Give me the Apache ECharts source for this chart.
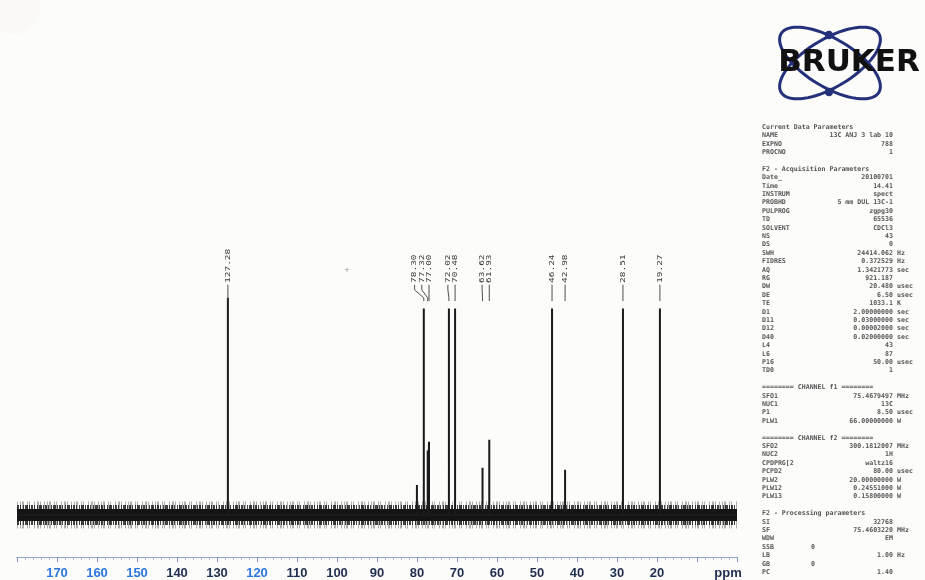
<!DOCTYPE html>
<html>
<head>
<meta charset="utf-8">
<script src="https://cdn.jsdelivr.net/npm/echarts@6/dist/echarts.min.js"></script>
<style>
  html, body { margin: 0; padding: 0; background: #fcfcfb; }
  #c { width: 925px; height: 580px; }
</style>
</head>
<body>
<div id="c"></div>
<script>
// 13C spectrum: peak positions (ppm) and relative intensities
const peakShifts  = [127.28, 80.02, 78.30, 77.32, 77.00, 72.02, 70.48, 63.62, 61.93, 46.24, 42.98, 28.51, 19.27];
const peakHeights = [101,    14,    96,    30,    34,    96,    96,    22,    35,    96,    21,    96,    96];
// peaks that carry a printed shift label
const labelledShifts = [127.28, 78.30, 77.32, 77.00, 72.02, 70.48, 63.62, 61.93, 46.24, 42.98, 28.51, 19.27];
// x-axis tick labels
const tickLabels = [170, 160, 150, 140, 130, 120, 110, 100, 90, 80, 70, 60, 50, 40, 30, 20];
const highlightedTicks = [170, 160, 150, 120];

// acquisition / processing parameter listing
const parameterRows = [
  'Current Data Parameters',
  ['NAME', '13C ANJ 3 lab 10', ''],
  ['EXPNO', '788', ''],
  ['PROCNO', '1', ''],
  null,
  'F2 - Acquisition Parameters',
  ['Date_', '20100701', ''],
  ['Time', '14.41', ''],
  ['INSTRUM', 'spect', ''],
  ['PROBHD', '5 mm DUL 13C-1', ''],
  ['PULPROG', 'zgpg30', ''],
  ['TD', '65536', ''],
  ['SOLVENT', 'CDCl3', ''],
  ['NS', '43', ''],
  ['DS', '0', ''],
  ['SWH', '24414.062', 'Hz'],
  ['FIDRES', '0.372529', 'Hz'],
  ['AQ', '1.3421773', 'sec'],
  ['RG', '921.187', ''],
  ['DW', '20.480', 'usec'],
  ['DE', '6.50', 'usec'],
  ['TE', '1033.1', 'K'],
  ['D1', '2.00000000', 'sec'],
  ['D11', '0.03000000', 'sec'],
  ['D12', '0.00002000', 'sec'],
  ['D40', '0.02000000', 'sec'],
  ['L4', '43', ''],
  ['L6', '87', ''],
  ['P16', '50.00', 'usec'],
  ['TD0', '1', ''],
  null,
  '======== CHANNEL f1 ========',
  ['SFO1', '75.4679497', 'MHz'],
  ['NUC1', '13C', ''],
  ['P1', '8.50', 'usec'],
  ['PLW1', '66.00000000', 'W'],
  null,
  '======== CHANNEL f2 ========',
  ['SFO2', '300.1812007', 'MHz'],
  ['NUC2', '1H', ''],
  ['CPDPRG[2', 'waltz16', ''],
  ['PCPD2', '80.00', 'usec'],
  ['PLW2', '20.00000000', 'W'],
  ['PLW12', '0.24551000', 'W'],
  ['PLW13', '0.15800000', 'W'],
  null,
  'F2 - Processing parameters',
  ['SI', '32768', ''],
  ['SF', '75.4603220', 'MHz'],
  ['WDW', 'EM', ''],
  ['SSB', '0', '', 'mid'],
  ['LB', '1.00', 'Hz'],
  ['GB', '0', '', 'mid'],
  ['PC', '1.40', '']
];

// ---- axis extent and drawing constants ----
const PPM_MIN = 0, PPM_MAX = 180;
const LABEL_GAP_PPM = 1.8;                 // minimum label separation
const LEVEL = { text: 107.8, lead: 107.0, bendTop: 104.6, bendBottom: 100.9, end: 99.4 };

// stick trace: baseline with each resonance drawn as a vertical line
const order = peakShifts.map((s, i) => i).sort((a, b) => peakShifts[b] - peakShifts[a]);
const trace = [[PPM_MAX, 0]];
order.forEach(i => {
  trace.push([peakShifts[i], 0], [peakShifts[i], peakHeights[i]], [peakShifts[i], 0]);
});
trace.push([PPM_MIN, 0]);

// label placement: labels keep their peak position unless a neighbour
// on the right forces them further left
const labelData = [];
{
  const asc = labelledShifts.slice().sort((a, b) => a - b);
  let prev = -Infinity;
  asc.forEach(s => {
    const pos = Math.max(s, prev + LABEL_GAP_PPM);
    const h = peakHeights[peakShifts.indexOf(s)];
    labelData.push([s, h, pos]);
    prev = pos;
  });
}

const baselineBand = [[PPM_MAX, 0], [PPM_MIN, 0]];

// ---- right-hand panel: logo and parameter text ----
function ellipsePoints(cx, cy, a, b, rotDeg) {
  const r = rotDeg * Math.PI / 180, pts = [];
  for (let k = 0; k < 72; k++) {
    const t = k / 72 * Math.PI * 2;
    const x = a * Math.cos(t), y = b * Math.sin(t);
    pts.push([cx + x * Math.cos(r) - y * Math.sin(r), cy + x * Math.sin(r) + y * Math.cos(r)]);
  }
  return pts;
}

const NAVY = '#24307a';
const graphics = [
  { type: 'circle', shape: { cx: 14, cy: 8, r: 26 }, style: { fill: 'rgba(235,195,210,0.07)' }, silent: true },
  { type: 'polygon', shape: { points: ellipsePoints(830, 63, 57, 24, 31) }, style: { fill: null, stroke: NAVY, lineWidth: 3 } },
  { type: 'polygon', shape: { points: ellipsePoints(830, 63, 57, 24, -31) }, style: { fill: null, stroke: NAVY, lineWidth: 3 } },
  { type: 'circle', shape: { cx: 829, cy: 35, r: 4.2 }, style: { fill: NAVY } },
  { type: 'circle', shape: { cx: 829, cy: 92, r: 4.2 }, style: { fill: NAVY } },
  { type: 'text', x: 849, y: 63, style: { text: 'BRUKER', fontFamily: 'DejaVu Sans', fontWeight: 'bold', fontSize: 31, fill: '#111', align: 'center', verticalAlign: 'middle' } },
  { type: 'text', x: 347, y: 270, style: { text: '+', fontFamily: 'DejaVu Sans', fontSize: 7, fill: '#999', align: 'center', verticalAlign: 'middle' } }
];

const PX = 762, PV = 893, PU = 897, PMID = 815, PTOP = 127, PSTEP = 8.4;
const pStyle = { fontFamily: 'DejaVu Sans Mono', fontWeight: 'bold', fontSize: 6.6, fill: '#555', verticalAlign: 'middle' };
function pText(x, y, text, align) {
  return { type: 'text', x, y, style: Object.assign({ text, align }, pStyle) };
}
parameterRows.forEach((row, i) => {
  const y = PTOP + i * PSTEP;
  if (!row) return;
  if (typeof row === 'string') { graphics.push(pText(PX, y, row, 'left')); return; }
  graphics.push(pText(PX, y, row[0], 'left'));
  graphics.push(pText(row[3] === 'mid' ? PMID : PV, y, row[1], 'right'));
  if (row[2]) graphics.push(pText(PU, y, row[2], 'left'));
});

const tickFont = { fontFamily: 'Liberation Sans', fontWeight: 'bold', fontSize: 13 };

const chart = echarts.init(document.getElementById('c'));
chart.setOption({
  animation: false,
  backgroundColor: '#fcfcfb',
  grid: { left: 17, right: 188, top: 20, bottom: 23 },
  xAxis: {
    type: 'value', min: PPM_MIN, max: PPM_MAX, interval: 10, inverse: true,
    splitLine: { show: false },
    axisLine: { onZero: false, lineStyle: { color: '#8ea3cc', width: 1.2 } },
    axisTick: { length: 5, lineStyle: { color: '#7a90bd' } },
    minorTick: { show: true, splitNumber: 5, length: 3, lineStyle: { color: '#a3b4d6' } },
    axisLabel: {
      interval: 0, margin: 10, showMinLabel: true, showMaxLabel: true,
      formatter: v => {
        if (v === 0) return '{p|ppm}';
        if (tickLabels.indexOf(v) < 0) return '';
        return (highlightedTicks.indexOf(v) >= 0 ? '{b|' : '{n|') + v + '}';
      },
      rich: {
        n: Object.assign({ color: '#1f2d4e' }, tickFont),
        b: Object.assign({ color: '#2d77de' }, tickFont),
        p: Object.assign({ color: '#1f2d4e', padding: [0, 18, 0, 0] }, tickFont)
      }
    }
  },
  yAxis: { type: 'value', min: -19.5, max: 230, show: false },
  graphic: graphics,
  series: [
    // baseline noise band, built from layered dashed strokes
    { type: 'line', data: baselineBand, symbol: 'none', silent: true, z: 1,
      lineStyle: { width: 27, color: 'rgba(30,30,30,0.35)', type: [1, 2, 1, 1, 2, 3, 1, 1, 1, 4, 1, 2, 2, 1, 1, 3], cap: 'butt' } },
    { type: 'line', data: baselineBand, symbol: 'none', silent: true, z: 2,
      lineStyle: { width: 20, color: 'rgba(20,20,20,0.8)', type: [2, 1, 1, 2, 1, 1, 3, 1, 1, 1], cap: 'butt' } },
    { type: 'line', data: baselineBand, symbol: 'none', silent: true, z: 3,
      lineStyle: { width: 12, color: '#141414', cap: 'butt' } },
    { type: 'line', data: trace, symbol: 'none', silent: true, z: 4,
      lineStyle: { width: 2, color: '#1b1b1b' } },
    {
      type: 'custom', data: labelData, z: 5, silent: true,
      encode: { x: 0, y: 1 },
      renderItem: (params, api) => {
        const px = api.coord([api.value(0), 0])[0];
        const lx = api.coord([api.value(2), 0])[0];
        const yy = v => api.coord([0, v])[1];
        const text = api.value(0).toFixed(2);
        return {
          type: 'group',
          children: [
            { type: 'text', x: lx, y: yy(LEVEL.text), rotation: Math.PI / 2, scaleY: 0.72,
              style: { text, fontFamily: 'DejaVu Sans Mono', fontSize: 9.5, fill: '#3a3a3a', align: 'left', verticalAlign: 'middle' } },
            { type: 'polyline',
              shape: { points: [[lx, yy(LEVEL.lead)], [lx, yy(LEVEL.bendTop)], [px, yy(LEVEL.bendBottom)], [px, yy(LEVEL.end)]] },
              style: { stroke: '#3a3a3a', lineWidth: 0.9, fill: null } }
          ]
        };
      }
    }
  ]
});
</script>
</body>
</html>
